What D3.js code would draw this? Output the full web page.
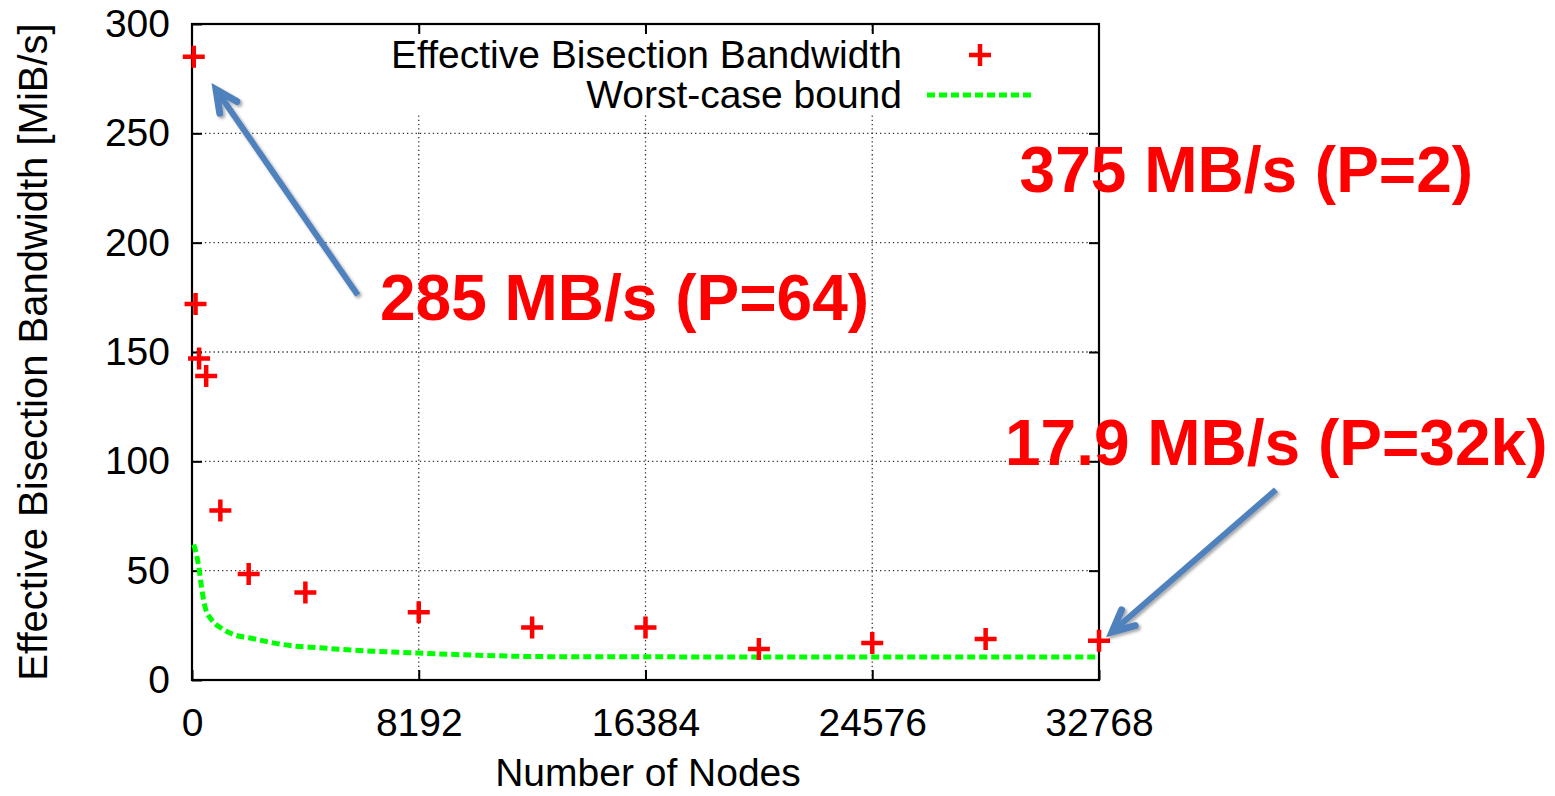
<!DOCTYPE html>
<html lang="en">
<head>
<meta charset="UTF-8" />
<script src="https://d3js.org/d3.v7.min.js"></script>
<title>Effective Bisection Bandwidth</title>
<style>
  body { margin: 0; background: #fff; }
  text { font-family: "Liberation Sans", Arial, Helvetica, sans-serif; }
</style>
</head>
<body>
<div id="chart"></div>
<script>
// measured points
var nodes     = [64, 128, 256, 512, 1024, 2048, 4096, 8192, 12288, 16384, 20480, 24576, 28672, 32768];
var bandwidth = [285, 172, 147, 139, 77.5, 48.5, 40, 31, 24, 24, 14.2, 16.9, 18.7, 17.9];

// worst-case bound
var boundNodes = [64, 230, 350, 470, 710, 1070, 1550, 2150, 2880, 3720, 4560, 5400, 6500, 8192, 10150, 12550, 16384, 24576, 32768];
var boundBw    = [62, 53, 42, 33.5, 27.5, 23.6, 20.6, 19.1, 17.1, 15.5, 14.8, 14, 13.2, 12.3, 11.4, 10.7, 10.6, 10.5, 10.5];

var xTicks = [0, 8192, 16384, 24576, 32768];
var yTicks = [0, 50, 100, 150, 200, 250, 300];

var seriesNames = ["Effective Bisection Bandwidth", "Worst-case bound"];

// callouts in data units: label text + arrow tail/tip
var labels = [
  { text: "285 MB/s (P=64)",   x: 6790,  y: 164.5 },
  { text: "375 MB/s (P=2)",    x: 29900, y: 223 },
  { text: "17.9 MB/s (P=32k)", x: 29370, y: 98.5 }
];
var arrows = [
  { x0: 5990,  y0: 176, x1: 870,   y1: 270 },
  { x0: 39160, y0: 87,  x1: 33240, y1: 22 }
];

var width = 1555, height = 796;
var svg = d3.select("#chart").append("svg")
  .attr("width", width)
  .attr("height", height);

var x = d3.scaleLinear().domain([0, 32768]).range([192, 1099]);
var y = d3.scaleLinear().domain([0, 300]).range([680, 24]);

var defs = svg.append("defs");
var shadow = defs.append("filter").attr("id", "shadow")
  .attr("x", "-20%").attr("y", "-20%").attr("width", "140%").attr("height", "140%");
shadow.append("feDropShadow")
  .attr("dx", 2).attr("dy", 2).attr("stdDeviation", 1.5)
  .attr("flood-color", "#000").attr("flood-opacity", 0.35);

// grid (dotted)
var grid = svg.append("g").attr("stroke", "#333").attr("stroke-width", 1.3)
  .attr("stroke-dasharray", "1.3,3");
grid.selectAll(".gy").data(yTicks.slice(1, -1)).enter().append("line")
  .attr("x1", x(0)).attr("x2", x(32768))
  .attr("y1", function(d) { return y(d); }).attr("y2", function(d) { return y(d); });
grid.selectAll(".gx").data(xTicks.slice(1, -1)).enter().append("line")
  .attr("y1", y(0)).attr("y2", y(300))
  .attr("x1", function(d) { return x(d); }).attr("x2", function(d) { return x(d); });

// legend box is opaque (hides grid behind it)
svg.append("rect")
  .attr("x", 380).attr("y", 33).attr("width", 665).attr("height", 82)
  .attr("fill", "#fff");

// border
svg.append("rect")
  .attr("x", x(0)).attr("y", y(300))
  .attr("width", x(32768) - x(0)).attr("height", y(0) - y(300))
  .attr("fill", "none").attr("stroke", "#000").attr("stroke-width", 2.2);

// axes with inward ticks, mirrored
var tickLen = 10;
svg.append("g").attr("transform", "translate(" + x(0) + ",0)")
  .call(d3.axisLeft(y).tickValues(yTicks).tickSize(-tickLen).tickPadding(22))
  .call(function(g) { g.select(".domain").remove(); });
svg.append("g").attr("transform", "translate(" + x(32768) + ",0)")
  .call(d3.axisRight(y).tickValues(yTicks.slice(1, -1)).tickSize(-tickLen).tickFormat(""))
  .call(function(g) { g.select(".domain").remove(); });
svg.append("g").attr("transform", "translate(0," + y(0) + ")")
  .call(d3.axisBottom(x).tickValues(xTicks).tickSize(-tickLen).tickPadding(28).tickFormat(d3.format("d")))
  .call(function(g) { g.select(".domain").remove(); });
svg.append("g").attr("transform", "translate(0," + y(300) + ")")
  .call(d3.axisTop(x).tickValues(xTicks.slice(1, -1)).tickSize(-tickLen).tickFormat(""))
  .call(function(g) { g.select(".domain").remove(); });

svg.selectAll(".tick line").attr("stroke", "#000").attr("stroke-width", 2);
svg.selectAll(".tick text")
  .style("font-family", "'Liberation Sans', Arial, sans-serif")
  .style("font-size", "39px")
  .attr("fill", "#000");

// axis titles
svg.append("text")
  .attr("transform", "translate(47," + ((y(0) + y(300)) / 2) + ") rotate(-90)")
  .attr("text-anchor", "middle")
  .style("font-size", "40px")
  .text("Effective Bisection Bandwidth [MiB/s]");
svg.append("text")
  .attr("x", 648).attr("y", 786)
  .attr("text-anchor", "middle")
  .style("font-size", "39px")
  .text("Number of Nodes");

// worst-case bound curve
var bound = boundNodes.map(function(n, i) { return [n, boundBw[i]]; });
svg.append("path")
  .datum(bound)
  .attr("fill", "none")
  .attr("stroke", "#00ff00")
  .attr("stroke-width", 5)
  .attr("stroke-dasharray", "8,4")
  .attr("d", d3.line()
    .x(function(d) { return x(d[0]); })
    .y(function(d) { return y(d[1]); })
    .curve(d3.curveMonotoneX));

// measured points as "+"
function plusPath(cx, cy, s) {
  return "M" + (cx - s) + "," + cy + "H" + (cx + s) + "M" + cx + "," + (cy - s) + "V" + (cy + s);
}
svg.append("g").selectAll("path")
  .data(nodes)
  .enter().append("path")
  .attr("d", function(d, i) { return plusPath(x(d), y(bandwidth[i]), 11); })
  .attr("stroke", "#ff0000")
  .attr("stroke-width", 4.5)
  .attr("fill", "none");

// legend
var legend = svg.append("g");
legend.append("text")
  .attr("x", 902).attr("y", 68)
  .attr("text-anchor", "end")
  .style("font-size", "39px")
  .text(seriesNames[0]);
legend.append("path")
  .attr("d", plusPath(980, 55, 11))
  .attr("stroke", "#ff0000").attr("stroke-width", 4.5);
legend.append("text")
  .attr("x", 902).attr("y", 108)
  .attr("text-anchor", "end")
  .style("font-size", "39px")
  .text(seriesNames[1]);
legend.append("line")
  .attr("x1", 927).attr("x2", 1033).attr("y1", 95).attr("y2", 95)
  .attr("stroke", "#00ff00").attr("stroke-width", 5)
  .attr("stroke-dasharray", "8,4");

// callout labels
svg.append("g").selectAll("text")
  .data(labels)
  .enter().append("text")
  .attr("x", function(d) { return x(d.x); })
  .attr("y", function(d) { return y(d.y); })
  .attr("fill", "#ff0000")
  .style("font-size", "64px")
  .style("font-weight", "bold")
  .text(function(d) { return d.text; });

// callout arrows
var arrowG = svg.append("g").attr("filter", "url(#shadow)");
arrows.forEach(function(a) {
  var sx = x(a.x0), sy = y(a.y0), tx = x(a.x1), ty = y(a.y1);
  var ang = Math.atan2(ty - sy, tx - sx);
  var hl = 24, hw = 0.45;
  arrowG.append("line")
    .attr("x1", sx).attr("y1", sy)
    .attr("x2", tx - 6 * Math.cos(ang)).attr("y2", ty - 6 * Math.sin(ang))
    .attr("stroke", "#4f81bd").attr("stroke-width", 6);
  arrowG.append("path")
    .attr("d", "M" + (tx - hl * Math.cos(ang - hw)) + "," + (ty - hl * Math.sin(ang - hw)) +
               "L" + tx + "," + ty +
               "L" + (tx - hl * Math.cos(ang + hw)) + "," + (ty - hl * Math.sin(ang + hw)))
    .attr("fill", "none")
    .attr("stroke", "#4f81bd").attr("stroke-width", 7)
    .attr("stroke-linejoin", "miter").attr("stroke-linecap", "round");
});
</script>
</body>
</html>
